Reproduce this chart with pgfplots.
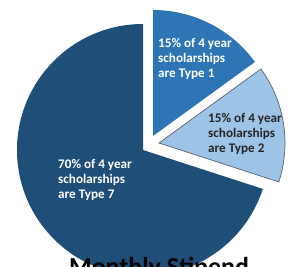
\documentclass[border=0pt]{standalone}
\usepackage{pgfplots}
\usepackage{pgfplotstable}
\pgfplotsset{compat=1.18}
\usepackage{fontspec}
\setmainfont{Carlito}
\definecolor{cdark}{HTML}{1F4E79}
\definecolor{cmid}{HTML}{2E75B6}
\definecolor{clight}{HTML}{9DC3E6}
\definecolor{cedge}{HTML}{5A6470}
\pgfplotstableread{
label pct cx cy
1 15 153 131
2 15 159 124
7 70 143 117
}\piedata
\begin{document}
\begin{tikzpicture}
\begin{axis}[
  at={(0,0)}, anchor=origin,
  scale only axis, width=290bp, height=267bp,
  xmin=0, xmax=290, ymin=0, ymax=267,
  hide axis, clip=true,
]
\pgfplotstablegetelem{0}{pct}\of\piedata \edef\pA{\pgfplotsretval}
\pgfplotstablegetelem{1}{pct}\of\piedata \edef\pB{\pgfplotsretval}
\pgfplotstablegetelem{2}{pct}\of\piedata \edef\pC{\pgfplotsretval}
\pgfplotstablegetelem{0}{cx}\of\piedata \edef\xA{\pgfplotsretval}
\pgfplotstablegetelem{0}{cy}\of\piedata \edef\yA{\pgfplotsretval}
\pgfplotstablegetelem{1}{cx}\of\piedata \edef\xB{\pgfplotsretval}
\pgfplotstablegetelem{1}{cy}\of\piedata \edef\yB{\pgfplotsretval}
\pgfplotstablegetelem{2}{cx}\of\piedata \edef\xC{\pgfplotsretval}
\pgfplotstablegetelem{2}{cy}\of\piedata \edef\yC{\pgfplotsretval}
\pgfmathsetmacro\aA{90-3.6*\pA}
\pgfmathsetmacro\aB{\aA-3.6*\pB}
\pgfmathsetmacro\aC{90+3.6*\pC}
% Type 7 (70%)
\fill[cdark] (axis cs:\xC,\yC) -- +(90:126bp) arc[start angle=90, end angle=\aC, radius=126bp] -- cycle;
% Type 1 (15%)
\fill[cmid] (axis cs:\xA,\yA) -- +(\aA:126bp) arc[start angle=\aA, end angle=90, radius=126bp] -- cycle;
% Type 2 (15%)
\filldraw[fill=clight, draw=cedge, line width=0.7bp] (axis cs:\xB,\yB) -- +(\aB:126bp) arc[start angle=\aB, end angle=\aA, radius=126bp] -- cycle;
\begin{scope}[every node/.style={anchor=base west, inner sep=0pt, font=\fontsize{13.2}{15}\selectfont\bfseries}]
\node[text=white] at (axis cs:158,219) {15\% of 4 year};
\node[text=white] at (axis cs:158,204) {scholarships};
\node[text=white] at (axis cs:158,189) {are Type 1};
\node[text=black!85] at (axis cs:208,144) {15\% of 4 year};
\node[text=black!85] at (axis cs:208,129) {scholarships};
\node[text=black!85] at (axis cs:208,114) {are Type 2};
\node[text=white] at (axis cs:58,98) {70\% of 4 year};
\node[text=white] at (axis cs:58,83) {scholarships};
\node[text=white] at (axis cs:58,68) {are Type 7};
\end{scope}
\node[anchor=base, inner sep=0pt, font=\fontsize{26}{30}\selectfont\bfseries] at (axis cs:159,-8) {Monthly Stipend};
\end{axis}
\pgfresetboundingbox
\useasboundingbox (0,0) rectangle (290bp,267bp);
\end{tikzpicture}
\end{document}
